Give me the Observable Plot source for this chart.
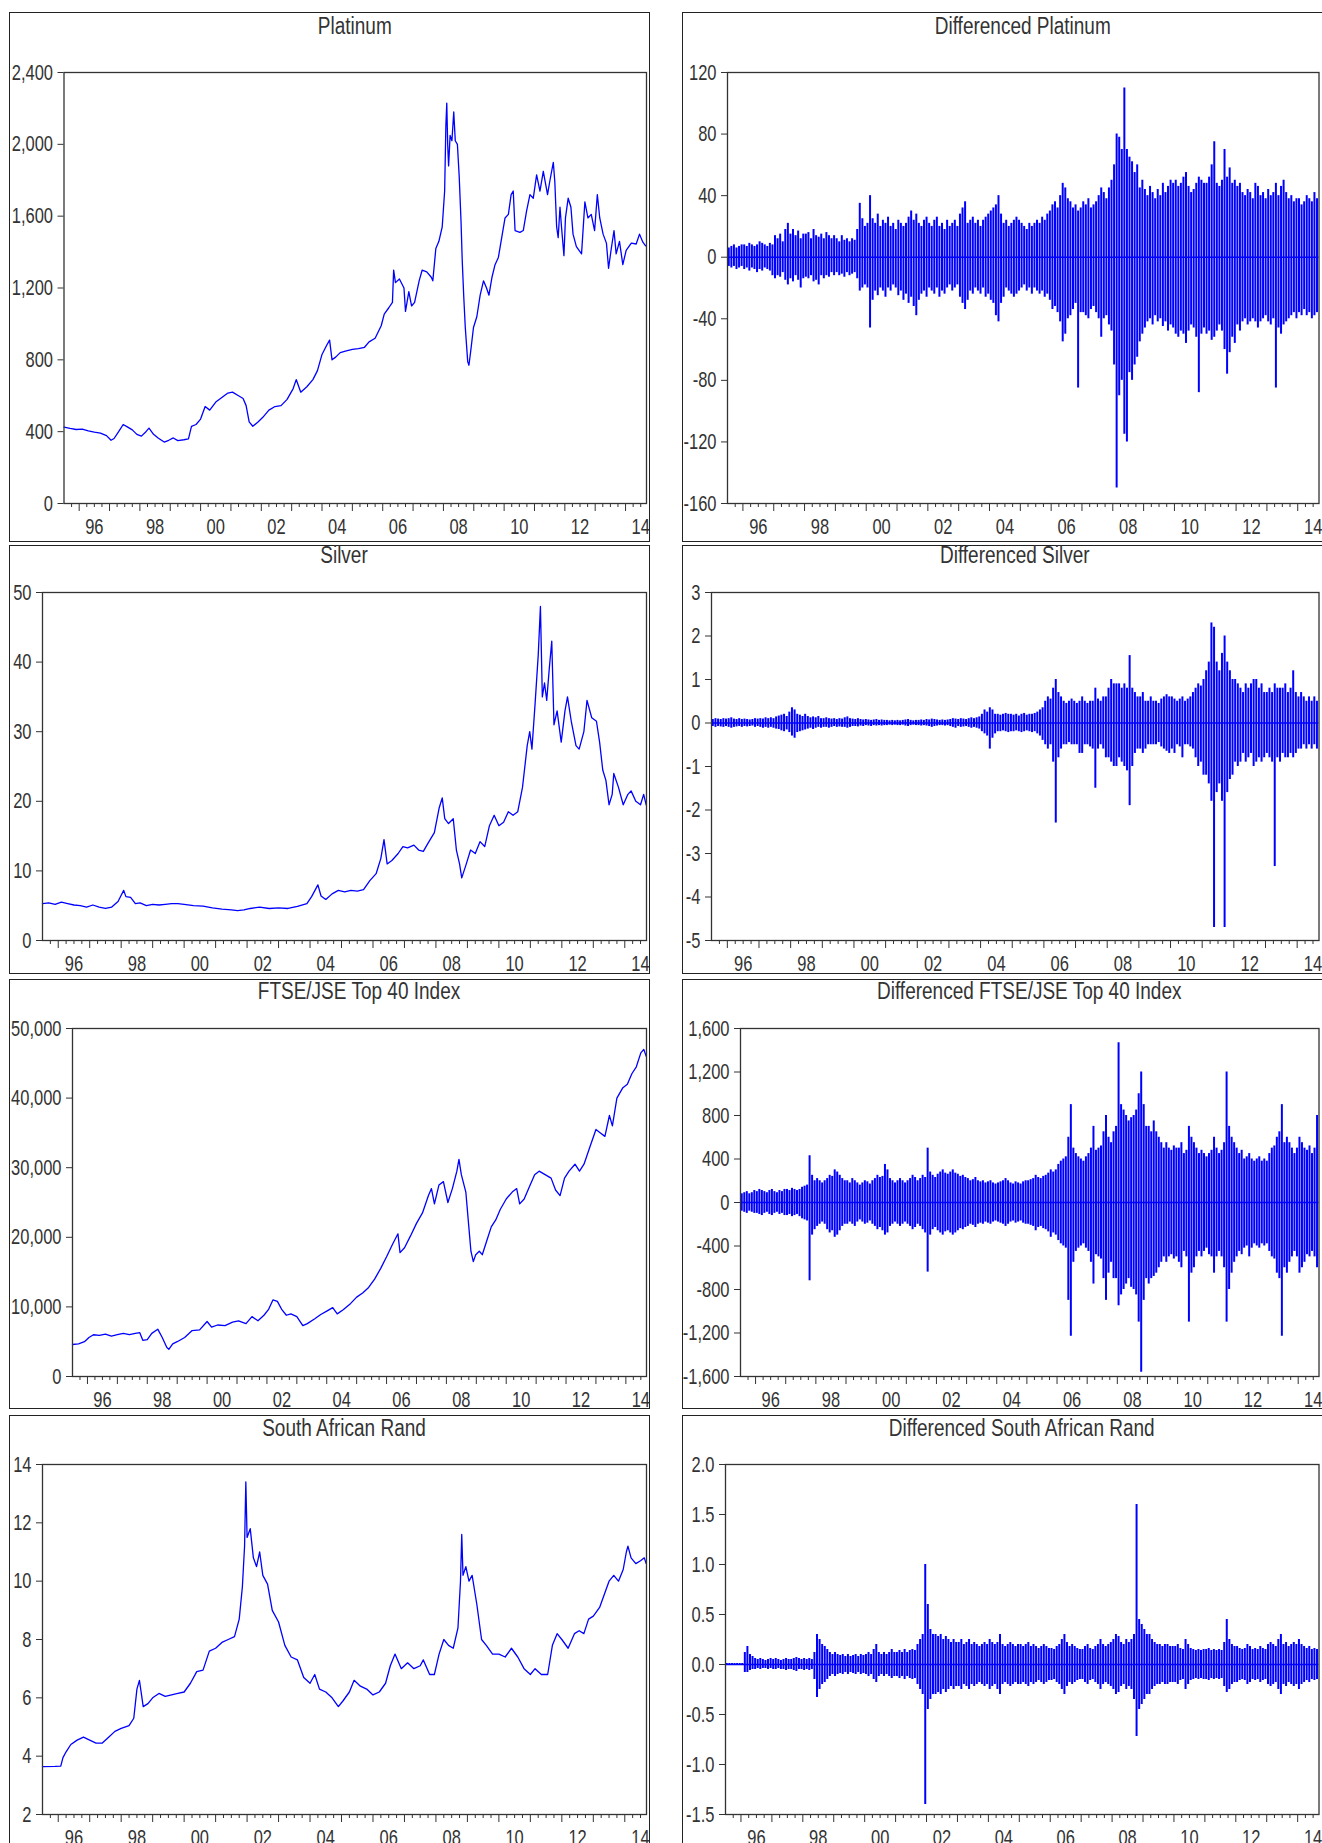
<!DOCTYPE html>
<html><head><meta charset="utf-8">
<script src="https://cdn.jsdelivr.net/npm/d3@7"></script>
<script src="https://cdn.jsdelivr.net/npm/@observablehq/plot@0.6"></script>
<style>
body{margin:0;background:#fff;}
#page{position:relative;width:1322px;height:1843px;overflow:hidden;background:#fff;font-family:"Liberation Sans",Arial,sans-serif;}
.frame{position:absolute;border:1.5px solid #222;box-sizing:border-box;}
.title{position:absolute;font-size:19px;color:#333;white-space:nowrap;transform:translate(-50%,-50%) scaleY(1.3);}
svg{position:absolute;}
</style></head><body><div id="page"></div>
<script>
// ---------------- DATA ----------------
const platYear = [1995.50,1995.70,1995.90,1996.10,1996.30,1996.50,1996.70,1996.90,1997.05,1997.15,1997.30,1997.45,1997.60,1997.75,1997.90,1998.05,1998.20,1998.30,1998.45,1998.60,1998.80,1998.95,1999.10,1999.25,1999.45,1999.60,1999.70,1999.85,2000.00,2000.15,2000.30,2000.50,2000.70,2000.90,2001.05,2001.25,2001.40,2001.50,2001.60,2001.72,2001.90,2002.05,2002.25,2002.45,2002.65,2002.85,2003.05,2003.15,2003.30,2003.50,2003.70,2003.85,2004.00,2004.15,2004.25,2004.33,2004.45,2004.60,2004.80,2005.00,2005.20,2005.40,2005.55,2005.75,2005.95,2006.05,2006.20,2006.32,2006.36,2006.42,2006.55,2006.70,2006.75,2006.86,2006.95,2007.05,2007.20,2007.30,2007.45,2007.60,2007.65,2007.75,2007.85,2007.96,2008.04,2008.08,2008.11,2008.14,2008.17,2008.22,2008.28,2008.34,2008.39,2008.46,2008.52,2008.58,2008.62,2008.67,2008.72,2008.80,2008.84,2008.90,2008.99,2009.10,2009.21,2009.32,2009.42,2009.50,2009.60,2009.70,2009.81,2009.92,2010.03,2010.14,2010.23,2010.30,2010.36,2010.52,2010.63,2010.74,2010.85,2010.96,2011.07,2011.18,2011.29,2011.43,2011.51,2011.62,2011.67,2011.73,2011.78,2011.84,2011.89,2011.97,2012.02,2012.11,2012.20,2012.27,2012.38,2012.55,2012.66,2012.76,2012.87,2012.98,2013.07,2013.15,2013.26,2013.37,2013.44,2013.53,2013.62,2013.69,2013.80,2013.91,2014.02,2014.19,2014.35,2014.46,2014.57,2014.66];
const platVal = [425,418,412,414,405,398,392,378,352,362,400,440,425,410,385,375,400,420,385,365,342,352,365,350,355,360,430,440,470,540,520,565,590,615,620,600,585,545,455,430,455,480,520,540,545,580,640,690,620,650,690,740,830,880,910,800,815,840,850,858,862,870,900,920,990,1055,1090,1120,1300,1230,1250,1200,1070,1180,1100,1120,1240,1300,1290,1260,1240,1420,1460,1540,1740,2100,2230,2000,1880,2050,2020,2180,2020,2000,1820,1570,1350,1150,980,790,770,850,980,1040,1160,1240,1200,1160,1260,1330,1370,1480,1590,1610,1720,1740,1520,1510,1520,1630,1720,1700,1830,1740,1850,1720,1800,1900,1790,1540,1480,1650,1540,1380,1590,1700,1650,1500,1430,1390,1680,1590,1610,1520,1720,1590,1500,1450,1310,1420,1520,1390,1460,1330,1410,1450,1445,1500,1455,1435];

const silvYear = [1995.50,1995.70,1995.90,1996.10,1996.30,1996.50,1996.70,1996.90,1997.10,1997.30,1997.50,1997.70,1997.90,1998.00,1998.08,1998.15,1998.30,1998.45,1998.60,1998.80,1999.00,1999.20,1999.40,1999.60,1999.80,2000.00,2000.30,2000.60,2000.90,2001.20,2001.50,2001.70,2001.90,2002.10,2002.40,2002.70,2003.00,2003.30,2003.60,2003.90,2004.05,2004.25,2004.35,2004.50,2004.70,2004.90,2005.10,2005.30,2005.50,2005.70,2005.90,2006.10,2006.25,2006.35,2006.45,2006.60,2006.80,2006.95,2007.10,2007.30,2007.45,2007.60,2007.75,2007.95,2008.10,2008.20,2008.28,2008.40,2008.55,2008.65,2008.75,2008.82,2008.95,2009.10,2009.25,2009.40,2009.55,2009.70,2009.85,2010.00,2010.15,2010.30,2010.45,2010.60,2010.75,2010.90,2010.98,2011.05,2011.15,2011.25,2011.32,2011.38,2011.45,2011.52,2011.60,2011.68,2011.75,2011.85,2011.98,2012.10,2012.18,2012.30,2012.45,2012.55,2012.70,2012.80,2012.95,2013.10,2013.20,2013.30,2013.40,2013.50,2013.60,2013.65,2013.80,2013.95,2014.10,2014.20,2014.35,2014.50,2014.60,2014.68];
const silvVal = [5.3,5.4,5.2,5.5,5.3,5.1,5.0,4.8,5.1,4.8,4.6,4.8,5.6,6.5,7.2,6.3,6.2,5.3,5.4,5.0,5.2,5.1,5.2,5.3,5.3,5.2,5.0,4.95,4.7,4.5,4.4,4.3,4.4,4.6,4.8,4.6,4.7,4.6,4.9,5.3,6.3,8.0,6.4,5.9,6.7,7.2,7.0,7.2,7.1,7.3,8.6,9.6,11.8,14.5,11.0,11.5,12.5,13.5,13.3,13.7,13.0,12.8,14.0,15.5,19.0,20.5,17.5,16.8,17.5,13.0,11.0,9.0,10.8,13.0,12.5,14.2,13.5,16.5,18.0,16.5,17.0,18.5,18.0,18.5,22.0,28.0,30.0,27.5,34.0,41.0,48.0,35.0,37.0,34.5,39.0,43.0,31.0,33.0,28.5,33.0,35.0,31.5,28.0,27.5,30.0,34.5,32.0,31.5,28.5,24.5,23.0,19.5,21.0,24.0,22.0,19.5,21.0,21.5,20.0,19.5,21.0,19.5];

const ftseYear = [1995.50,1995.70,1995.90,1996.05,1996.20,1996.40,1996.60,1996.80,1997.00,1997.20,1997.40,1997.60,1997.75,1997.85,1998.00,1998.15,1998.35,1998.50,1998.65,1998.72,1998.85,1999.00,1999.25,1999.50,1999.75,2000.00,2000.15,2000.35,2000.60,2000.85,2001.05,2001.30,2001.50,2001.70,2001.90,2002.05,2002.20,2002.35,2002.50,2002.65,2002.80,2003.00,2003.20,2003.35,2003.60,2003.80,2004.00,2004.20,2004.35,2004.55,2004.80,2005.00,2005.20,2005.40,2005.60,2005.80,2006.00,2006.20,2006.38,2006.45,2006.60,2006.80,2007.00,2007.20,2007.40,2007.50,2007.60,2007.75,2007.90,2008.05,2008.20,2008.35,2008.42,2008.50,2008.65,2008.75,2008.82,2008.90,2008.98,2009.10,2009.20,2009.35,2009.50,2009.65,2009.80,2010.00,2010.20,2010.35,2010.45,2010.60,2010.80,2010.95,2011.10,2011.30,2011.50,2011.65,2011.80,2011.95,2012.10,2012.30,2012.45,2012.60,2012.80,2013.00,2013.15,2013.30,2013.45,2013.55,2013.70,2013.90,2014.05,2014.20,2014.35,2014.50,2014.60,2014.68];
const ftseVal = [4600,4700,5000,5600,6000,5900,6100,5800,6000,6200,6000,6200,6300,5200,5300,6200,6800,5600,4200,3900,4700,5000,5600,6600,6700,7900,7100,7400,7300,7800,8000,7600,8600,8000,8800,9600,11000,10800,9600,8800,9000,8600,7300,7600,8300,8900,9400,9900,9000,9600,10500,11400,12000,12800,14000,15500,17200,19000,20500,17800,18500,20200,22000,23500,26000,27000,24800,27500,28000,25000,27000,29500,31200,29000,26500,21500,18000,16500,17500,18000,17500,19500,21500,22500,24000,25500,26500,27000,24800,25500,27500,29000,29500,29000,28500,26800,26000,28500,29500,30500,29500,30500,33000,35500,35000,34500,37500,36000,40000,41500,42000,43500,44500,46500,47000,46000];

const randYear = [1995.50,1995.90,1996.08,1996.15,1996.25,1996.40,1996.60,1996.80,1997.00,1997.20,1997.40,1997.60,1997.80,1998.00,1998.25,1998.40,1998.50,1998.58,1998.70,1998.85,1999.00,1999.20,1999.40,1999.60,1999.80,2000.00,2000.20,2000.40,2000.60,2000.80,2001.00,2001.20,2001.40,2001.60,2001.75,2001.85,2001.92,2001.96,2002.00,2002.10,2002.20,2002.30,2002.40,2002.50,2002.65,2002.80,2003.00,2003.20,2003.40,2003.60,2003.80,2004.00,2004.15,2004.30,2004.50,2004.70,2004.90,2005.05,2005.25,2005.40,2005.60,2005.80,2006.00,2006.20,2006.40,2006.55,2006.70,2006.90,2007.10,2007.30,2007.50,2007.60,2007.80,2007.95,2008.10,2008.25,2008.40,2008.55,2008.70,2008.78,2008.82,2008.86,2008.95,2009.05,2009.15,2009.30,2009.45,2009.60,2009.80,2010.00,2010.20,2010.40,2010.60,2010.80,2011.00,2011.15,2011.35,2011.55,2011.70,2011.85,2012.00,2012.20,2012.40,2012.55,2012.70,2012.85,2013.00,2013.20,2013.40,2013.50,2013.65,2013.80,2013.95,2014.05,2014.10,2014.20,2014.35,2014.50,2014.62,2014.68];
const randVal = [3.64,3.65,3.66,3.95,4.15,4.40,4.55,4.65,4.55,4.45,4.45,4.65,4.85,4.95,5.05,5.30,6.30,6.60,5.70,5.80,6.00,6.15,6.05,6.10,6.15,6.20,6.50,6.90,6.95,7.60,7.70,7.90,8.00,8.10,8.70,9.80,11.20,13.40,11.50,11.80,10.80,10.50,11.00,10.20,9.90,9.00,8.60,7.80,7.40,7.30,6.70,6.50,6.80,6.30,6.20,6.00,5.70,5.90,6.20,6.60,6.40,6.30,6.10,6.20,6.50,7.10,7.50,7.00,7.20,7.00,7.10,7.30,6.80,6.80,7.50,8.00,7.80,7.70,8.40,10.00,11.60,10.20,10.50,10.00,10.20,9.20,8.00,7.80,7.50,7.50,7.40,7.70,7.40,7.00,6.80,7.00,6.80,6.80,7.80,8.20,8.00,7.70,8.20,8.30,8.20,8.70,8.80,9.10,9.70,10.00,10.20,10.00,10.40,11.00,11.20,10.80,10.60,10.70,10.80,10.60];

// Differenced series: monthly extremes, Jul 1995 .. Aug 2014 (230 months)
const dPlatUp = [6,7,8,6,7,8,
 8,7,9,8,7,8,10,9,8,7,9,8,
 14,12,15,10,18,22,15,18,14,17,12,15,
 15,16,12,18,14,13,15,12,16,14,12,14,
 12,10,14,11,12,10,12,11,18,35,25,20,
 22,40,25,22,28,20,24,22,26,20,22,18,
 24,22,20,22,26,30,24,28,22,20,24,26,
 22,20,24,26,20,22,18,24,20,22,24,20,
 28,32,36,22,24,26,22,24,20,24,26,28,
 30,32,34,40,28,22,24,20,22,24,26,24,
 22,20,18,22,20,22,24,22,26,24,28,30,
 34,36,32,40,48,45,38,36,32,34,30,32,
 36,34,38,32,34,36,40,45,42,38,45,50,
 60,80,78,70,110,70,65,62,55,60,45,50,
 44,40,46,42,38,44,40,48,42,46,50,48,
 50,46,48,52,55,46,42,44,48,52,50,48,
 48,52,60,75,48,46,50,70,52,58,48,50,
 46,48,42,40,44,42,38,48,46,40,42,38,
 44,40,42,48,40,46,50,42,38,40,36,38,
 38,34,36,40,38,36,42,38];
const dPlatDn = [-6,-7,-6,-8,-7,-6,
 -8,-7,-9,-7,-8,-10,-8,-9,-7,-8,-9,-12,
 -14,-12,-13,-10,-15,-18,-14,-16,-12,-15,-20,-14,
 -13,-14,-12,-16,-15,-18,-12,-14,-12,-13,-10,-12,
 -10,-12,-11,-13,-10,-12,-11,-10,-14,-22,-20,-18,
 -20,-46,-28,-22,-25,-20,-22,-26,-20,-22,-18,-20,
 -25,-22,-28,-24,-30,-26,-32,-38,-28,-24,-22,-26,
 -20,-22,-24,-20,-26,-22,-24,-20,-18,-22,-20,-18,
 -26,-30,-34,-28,-22,-24,-20,-22,-24,-20,-26,-24,
 -28,-30,-38,-42,-30,-26,-20,-22,-24,-26,-24,-22,
 -20,-18,-22,-20,-24,-20,-22,-24,-22,-26,-24,-28,
 -34,-32,-36,-42,-55,-50,-40,-38,-34,-30,-85,-36,
 -36,-38,-40,-34,-32,-36,-40,-52,-40,-38,-44,-48,
 -70,-150,-90,-80,-115,-120,-75,-80,-70,-65,-55,-50,
 -46,-42,-40,-44,-38,-42,-40,-45,-42,-48,-44,-46,
 -50,-52,-48,-50,-56,-48,-44,-46,-52,-88,-50,-46,
 -50,-48,-54,-52,-48,-44,-48,-60,-76,-62,-52,-56,
 -44,-48,-42,-40,-44,-42,-40,-42,-46,-42,-40,-38,
 -42,-44,-40,-85,-46,-50,-44,-42,-40,-38,-36,-40,
 -36,-38,-34,-38,-36,-40,-38,-36];

const dSilvUp = [.08,.1,.09,.08,.1,.09,
 .1,.12,.09,.08,.1,.08,.09,.08,.07,.08,.1,.09,
 .1,.09,.12,.1,.12,.1,.14,.16,.18,.2,.15,.25,
 .35,.3,.2,.18,.15,.2,.15,.12,.14,.12,.15,.1,
 .1,.12,.1,.09,.1,.08,.1,.09,.12,.14,.1,.09,
 .08,.1,.08,.07,.08,.07,.06,.07,.08,.06,.07,.06,
 .06,.05,.06,.05,.06,.05,.06,.07,.08,.06,.05,.06,
 .06,.07,.06,.08,.07,.09,.08,.07,.06,.07,.06,.07,
 .08,.1,.09,.08,.1,.09,.08,.1,.12,.1,.12,.14,
 .2,.3,.25,.35,.3,.2,.2,.18,.2,.22,.2,.2,
 .18,.2,.16,.2,.22,.18,.2,.2,.22,.25,.3,.35,
 .5,.6,.55,.8,1.0,.7,.6,.5,.45,.5,.55,.5,
 .45,.5,.6,.5,.45,.5,.5,.8,.55,.5,.6,.6,
 .8,1.0,.9,.9,.9,.8,.9,.8,1.55,.8,.7,.6,
 .6,.7,.5,.5,.6,.5,.5,.45,.55,.6,.65,.6,
 .6,.55,.5,.55,.6,.5,.55,.6,.7,.8,.9,.85,
 1.0,1.2,1.4,2.3,2.2,1.4,1.2,1.6,2.0,1.4,1.2,1.0,
 1.0,.9,.8,.7,.9,.8,.9,1.0,1.0,.8,.9,.7,
 .7,.8,.7,.9,.8,.8,.8,.9,.7,.8,1.2,.7,
 .6,.7,.6,.5,.6,.5,.6,.5];
const dSilvDn = [-.08,-.1,-.08,-.09,-.1,-.08,
 -.1,-.12,-.1,-.09,-.08,-.1,-.08,-.09,-.08,-.07,-.1,-.08,
 -.1,-.12,-.1,-.12,-.1,-.12,-.14,-.15,-.18,-.2,-.16,-.22,
 -.3,-.35,-.22,-.2,-.18,-.16,-.14,-.12,-.15,-.12,-.1,-.12,
 -.1,-.1,-.12,-.1,-.08,-.1,-.09,-.1,-.1,-.12,-.1,-.08,
 -.08,-.09,-.07,-.08,-.06,-.07,-.08,-.06,-.07,-.06,-.07,-.06,
 -.06,-.05,-.06,-.05,-.06,-.06,-.05,-.07,-.08,-.06,-.05,-.06,
 -.06,-.07,-.06,-.07,-.08,-.1,-.08,-.07,-.06,-.06,-.07,-.06,
 -.08,-.1,-.12,-.08,-.1,-.09,-.08,-.1,-.12,-.1,-.12,-.14,
 -.2,-.25,-.3,-.6,-.35,-.25,-.2,-.2,-.18,-.2,-.22,-.2,
 -.2,-.18,-.2,-.22,-.2,-.18,-.2,-.22,-.2,-.25,-.3,-.4,
 -.5,-.6,-.5,-.9,-2.3,-.8,-.6,-.5,-.5,-.45,-.5,-.5,
 -.5,-.7,-.7,-.5,-.5,-.55,-.6,-1.5,-.6,-.5,-.6,-.8,
 -.8,-.9,-1.0,-1.0,-.8,-.9,-1.0,-1.1,-1.9,-1.0,-.7,-.6,
 -.6,-.7,-.6,-.5,-.5,-.5,-.5,-.45,-.55,-.6,-.65,-.7,
 -.6,-.7,-.5,-.55,-.8,-.5,-.5,-.55,-.6,-.8,-1.0,-.9,
 -1.2,-1.2,-1.4,-1.8,-4.7,-1.6,-1.4,-1.8,-4.7,-1.6,-1.3,-1.2,
 -.9,-1.0,-.9,-.7,-.9,-.8,-.7,-1.0,-.9,-.8,-.9,-.8,
 -.7,-.8,-.9,-3.3,-.8,-.9,-.7,-.8,-.8,-.7,-.8,-.7,
 -.6,-.6,-.5,-.6,-.5,-.6,-.5,-.6];

const dFtseUp = [80,90,100,80,90,110,
 100,120,110,100,90,110,120,100,90,110,100,120,
 120,110,130,120,110,120,140,150,160,430,250,200,
 220,200,180,200,220,250,240,300,280,250,220,200,
 200,180,220,200,180,160,180,200,190,170,200,220,
 250,230,240,350,300,220,200,180,200,220,200,180,
 200,220,250,230,200,220,250,230,500,280,250,230,
 260,280,300,270,260,280,300,270,260,240,250,230,
 220,200,210,230,200,190,200,180,190,200,180,170,
 180,190,200,220,200,180,170,190,180,170,190,200,
 200,210,220,250,230,220,240,250,270,300,280,300,
 350,380,400,420,600,900,500,450,420,400,380,420,
 450,500,700,480,500,520,650,800,600,550,650,700,
 1470,900,850,800,750,780,800,850,1000,1200,900,700,
 700,650,750,650,600,550,500,550,500,480,520,500,
 500,550,450,480,700,600,550,500,450,480,450,420,
 450,480,600,500,450,480,550,1200,700,600,550,500,
 450,480,400,420,450,400,380,400,420,380,400,380,
 450,500,520,600,650,900,550,600,550,500,450,500,
 600,550,500,480,520,450,500,800];
const dFtseDn = [-80,-90,-100,-80,-90,-100,
 -100,-110,-120,-100,-90,-110,-120,-100,-90,-110,-100,-120,
 -120,-110,-130,-120,-110,-130,-150,-160,-170,-720,-300,-250,
 -220,-200,-180,-200,-250,-280,-260,-320,-300,-260,-220,-200,
 -200,-180,-200,-220,-180,-160,-180,-200,-190,-170,-200,-220,
 -250,-230,-260,-300,-280,-220,-200,-180,-200,-220,-200,-180,
 -200,-220,-250,-230,-200,-220,-250,-280,-640,-300,-250,-230,
 -260,-280,-300,-270,-260,-280,-300,-280,-260,-240,-250,-230,
 -220,-200,-210,-230,-200,-190,-200,-180,-190,-200,-180,-170,
 -180,-190,-200,-220,-200,-180,-170,-190,-180,-170,-190,-200,
 -200,-210,-220,-260,-230,-220,-240,-250,-270,-320,-280,-300,
 -350,-380,-400,-420,-900,-1230,-550,-450,-420,-400,-380,-420,
 -450,-550,-750,-480,-500,-520,-700,-900,-650,-550,-700,-700,
 -950,-850,-800,-750,-700,-780,-800,-850,-1100,-1560,-900,-700,
 -750,-700,-680,-650,-600,-550,-500,-550,-500,-480,-520,-500,
 -550,-600,-450,-500,-1100,-650,-600,-500,-450,-500,-450,-420,
 -480,-500,-650,-500,-450,-500,-600,-1100,-800,-650,-550,-500,
 -450,-480,-420,-400,-500,-420,-380,-400,-420,-380,-400,-380,
 -450,-500,-520,-650,-700,-1230,-600,-650,-550,-500,-450,-500,
 -650,-600,-550,-480,-500,-450,-500,-600];

const dRandUp = [.01,.01,.01,.01,.01,.01,
 .01,.12,.18,.1,.08,.06,.05,.06,.05,.04,.05,.06,
 .05,.06,.05,.04,.05,.06,.05,.05,.06,.07,.06,.05,
 .06,.05,.06,.05,.12,.3,.25,.2,.18,.15,.12,.1,
 .12,.1,.09,.1,.08,.1,.08,.09,.1,.08,.1,.09,
 .1,.12,.1,.15,.2,.12,.1,.12,.1,.12,.15,.12,
 .12,.14,.12,.15,.12,.14,.15,.14,.2,.25,.3,1.0,
 .6,.35,.3,.3,.28,.3,.25,.28,.25,.22,.25,.22,
 .22,.25,.2,.22,.25,.2,.22,.2,.18,.2,.22,.2,
 .25,.22,.2,.22,.3,.2,.18,.2,.22,.2,.18,.2,
 .2,.18,.2,.22,.18,.2,.18,.16,.18,.2,.18,.16,
 .16,.15,.18,.2,.25,.3,.22,.18,.2,.18,.16,.15,
 .15,.18,.2,.16,.15,.18,.2,.25,.2,.18,.2,.22,
 .25,.3,.28,.22,.2,.25,.22,.25,.3,1.6,.45,.4,
 .35,.3,.3,.25,.22,.2,.2,.18,.2,.2,.18,.18,
 .18,.2,.16,.15,.25,.2,.16,.15,.14,.15,.14,.15,
 .15,.16,.14,.15,.14,.15,.14,.22,.45,.25,.2,.18,
 .18,.16,.15,.16,.2,.18,.15,.16,.15,.18,.16,.15,
 .2,.22,.2,.18,.25,.3,.2,.22,.18,.2,.22,.2,
 .25,.2,.18,.16,.18,.15,.16,.15];
const dRandDn = [-.01,-.01,-.01,-.01,-.01,-.01,
 -.01,-.08,-.08,-.06,-.05,-.05,-.04,-.05,-.04,-.04,-.05,-.04,
 -.05,-.05,-.04,-.05,-.05,-.06,-.05,-.05,-.06,-.07,-.05,-.05,
 -.06,-.05,-.06,-.05,-.15,-.33,-.25,-.2,-.18,-.15,-.12,-.1,
 -.12,-.1,-.09,-.1,-.08,-.1,-.08,-.09,-.1,-.08,-.1,-.09,
 -.1,-.12,-.1,-.15,-.18,-.12,-.1,-.12,-.1,-.12,-.14,-.12,
 -.12,-.14,-.12,-.15,-.12,-.14,-.15,-.14,-.2,-.25,-.3,-1.4,
 -.45,-.35,-.3,-.3,-.28,-.3,-.25,-.28,-.25,-.22,-.25,-.22,
 -.22,-.25,-.2,-.22,-.25,-.2,-.22,-.2,-.18,-.2,-.22,-.2,
 -.25,-.22,-.2,-.25,-.3,-.2,-.18,-.2,-.22,-.2,-.18,-.2,
 -.2,-.18,-.2,-.22,-.18,-.2,-.18,-.16,-.18,-.2,-.18,-.16,
 -.16,-.15,-.18,-.2,-.25,-.3,-.22,-.18,-.2,-.18,-.16,-.15,
 -.15,-.18,-.2,-.16,-.15,-.18,-.2,-.25,-.2,-.18,-.2,-.22,
 -.25,-.3,-.28,-.22,-.2,-.25,-.22,-.25,-.35,-.72,-.45,-.4,
 -.35,-.3,-.3,-.25,-.22,-.2,-.2,-.18,-.2,-.2,-.18,-.18,
 -.18,-.2,-.16,-.15,-.25,-.2,-.16,-.15,-.14,-.15,-.14,-.15,
 -.15,-.16,-.14,-.15,-.14,-.15,-.14,-.22,-.28,-.25,-.2,-.18,
 -.18,-.16,-.15,-.16,-.2,-.18,-.15,-.16,-.15,-.18,-.16,-.15,
 -.2,-.22,-.2,-.18,-.25,-.3,-.2,-.22,-.18,-.2,-.22,-.2,
 -.25,-.2,-.18,-.16,-.18,-.15,-.16,-.15];

const titles = ["Platinum","Differenced Platinum","Silver","Differenced Silver","FTSE/JSE Top 40 Index","Differenced FTSE/JSE Top 40 Index","South African Rand","Differenced South African Rand"];
const yTickSets = [
  d3.range(0, 2401, 400), d3.range(-160, 121, 40),
  d3.range(0, 51, 10), d3.range(-5, 3.1, 1),
  d3.range(0, 50001, 10000), d3.range(-1600, 1601, 400),
  d3.range(2, 14.1, 2), d3.range(-1.5, 2.01, 0.5)
];

// ---------------- LAYOUT ----------------
const BLUE = "#0000ff";
const X0 = 1995.5, X1 = 2014.69;
const START = 1995.5;
const S = 1.3; // vertical text stretch
const yearTicks = d3.range(1996, 2015);
const quarterTicks = d3.range(1995.75, X1, 0.25).filter(t => Math.abs(t - Math.round(t)) > 0.01);
const labelTicks = d3.range(1996.5, X1, 2);
const yrFmt = t => String(Math.floor(t) % 100).padStart(2, "0");
const numFmt = d => (d < 0 ? "-" : "") + d3.format(",")(Math.abs(d));
const decFmt = d => (d < 0 ? "-" : "") + d3.format(".1f")(Math.abs(d));

const colL = [9, 650], colR = [682, 1340];
const rows = [[12, 542], [545, 974], [979, 1409], [1415, 1870]];
const titleY = [26, 555, 990.5, 1428];
const plotRows = [[72, 503], [592, 940], [1028, 1376], [1464, 1814]];
const plotLeft = [[63.5, 727], [42, 711], [72, 740], [42, 725]];
const plotRight = [646, 1318.5];

const levelRows = (ys, vs) => ys.map((x, i) => ({x, y: vs[i]}));
const diffRows = (up, dn) => up.map((u, i) => ({x: START + (i + 0.5) / 12, up: u, dn: dn[i]}));

const series = [
  {kind: "level", rows: levelRows(platYear, platVal), fmt: numFmt},
  {kind: "diff", rows: diffRows(dPlatUp, dPlatDn), fmt: numFmt},
  {kind: "level", rows: levelRows(silvYear, silvVal), fmt: numFmt},
  {kind: "diff", rows: diffRows(dSilvUp, dSilvDn), fmt: numFmt},
  {kind: "level", rows: levelRows(ftseYear, ftseVal), fmt: numFmt},
  {kind: "diff", rows: diffRows(dFtseUp, dFtseDn), fmt: numFmt},
  {kind: "level", rows: levelRows(randYear, randVal), fmt: numFmt},
  {kind: "diff", rows: diffRows(dRandUp, dRandDn), fmt: decFmt}
];

const page = document.getElementById("page");

function stretchText(svg) {
  svg.querySelectorAll("text").forEach(t => {
    if (!t.textContent) return;
    const bb = t.getBBox();
    if (!bb.height) return;
    const cy = bb.y + bb.height / 2;
    const tr = t.getAttribute("transform") || "";
    t.setAttribute("transform", `${tr} translate(0,${cy}) scale(1,${S}) translate(0,${-cy})`);
  });
}

series.forEach((s, k) => {
  const r = Math.floor(k / 2), c = k % 2;
  const col = c === 0 ? colL : colR;
  const [fx0, fx1] = col, [fy0, fy1] = rows[r];
  const l = plotLeft[r][c], rr = plotRight[c];
  const [t, b] = plotRows[r];
  const ticks = yTickSets[k];

  const marks = [];
  if (s.kind === "level") {
    marks.push(Plot.line(s.rows, {x: "x", y: "y", stroke: BLUE, strokeWidth: 1.3}));
  } else {
    marks.push(Plot.ruleY([0], {stroke: BLUE, strokeWidth: 1.5}));
    marks.push(Plot.ruleX(s.rows, {x: "x", y1: "dn", y2: "up", stroke: BLUE, strokeWidth: 2}));
  }
  marks.push(Plot.frame({stroke: "#333", strokeWidth: 1.3}));
  marks.push(Plot.axisY({ticks, tickSize: 6, tickPadding: 5, tickFormat: s.fmt, stroke: "#333", label: null}));
  marks.push(Plot.axisX({ticks: quarterTicks, tickSize: 4, tickFormat: () => "", stroke: "#333", label: null}));
  marks.push(Plot.axisX({ticks: yearTicks, tickSize: 8, tickFormat: () => "", stroke: "#333", label: null}));
  marks.push(Plot.axisX({ticks: labelTicks, tickSize: 0, tickPadding: 17, tickFormat: yrFmt, label: null}));

  const svg = Plot.plot({
    width: fx1 - fx0, height: fy1 - fy0,
    marginLeft: l - fx0, marginRight: fx1 - rr, marginTop: t - fy0, marginBottom: fy1 - b,
    x: {domain: [X0, X1], label: null},
    y: {domain: [ticks[0], ticks[ticks.length - 1]], label: null},
    style: {fontFamily: "'Liberation Sans', Arial, sans-serif", fontSize: "16.5px", color: "#333", background: "transparent", overflow: "visible"},
    marks
  });
  svg.style.left = fx0 + "px";
  svg.style.top = fy0 + "px";
  page.appendChild(svg);
  stretchText(svg);

  const fr = document.createElement("div");
  fr.className = "frame";
  Object.assign(fr.style, {left: fx0 + "px", top: fy0 + "px", width: (fx1 - fx0) + "px", height: (fy1 - fy0) + "px"});
  page.appendChild(fr);

  const ti = document.createElement("div");
  ti.className = "title";
  ti.textContent = titles[k];
  ti.style.left = ((l + rr) / 2) + "px";
  ti.style.top = titleY[r] + "px";
  page.appendChild(ti);
});
</script></body></html>
